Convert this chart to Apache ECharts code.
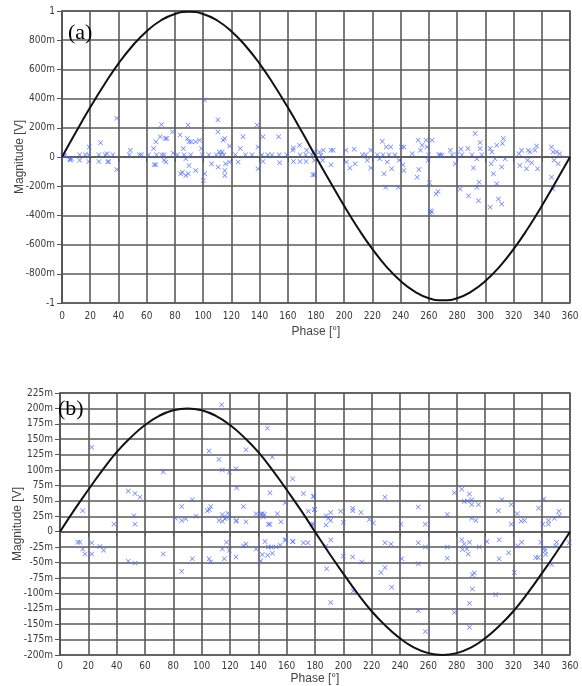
<!DOCTYPE html>
<html>
<head>
<meta charset="utf-8">
<script src="https://cdn.jsdelivr.net/npm/echarts@6/dist/echarts.min.js"></script>
<style>
html,body{margin:0;padding:0;background:#fff;}
#chart{width:582px;height:686px;}
</style>
</head>
<body>
<div id="chart"></div>
<script>
// ---- reference curves (phase in degrees, magnitude in mV) ----
var curvePhase = [0,10,20,30,40,50,60,70,80,90,100,110,120,130,140,150,160,170,180,190,200,210,220,230,240,250,260,270,280,290,300,310,320,330,340,350,360];
var curveA = [0,173,340,497,640,762,862,935,980,995,980,935,862,762,640,497,340,173,0,-170,-336,-491,-631,-752,-850,-922,-967,-982,-967,-922,-850,-752,-631,-491,-336,-170,0];
var curveB = [0,35,68,100,129,153,173,188,197,200,197,188,173,153,129,100,68,35,0,-35,-68,-100,-129,-153,-173,-188,-197,-200,-197,-188,-173,-153,-129,-100,-68,-35,0];

// ---- panel (a) measured points ----
var phaseA = [0.5,1.4,2,5.4,6.6,6,12.5,12.5,16.5,19,19,19.3,26.1,26.1,27.3,30.6,32,32.4,33.1,36,38.8,38.8,48.4,47.7,54.8,56.4,61.3,64.9,65.3,66.5,66.5,67,69.6,70.5,70.7,72.4,72.4,73.1,74.3,73.6,78.3,78.7,81.8,83.7,84.1,85.3,86,86.5,87.7,87.7,88.8,89.3,89.5,90,90,91.2,91.7,94.7,94.7,97.5,98.9,99.4,100.1,101.1,101,104.1,106,109.3,110.5,110.5,110.7,111.6,112.3,113.5,114.2,114.7,115.2,115.4,115.4,115.9,118.7,118.7,122.9,124.8,126.4,128.3,130,134.7,138.2,138.9,138.9,141.7,142.4,142.4,145.9,148.8,153.5,153.9,154.2,159.3,163.6,164,164,168.3,168.7,168.7,172.7,173,173.4,177,177.7,
178.1,178.8,178.8,182.4,183.5,184.7,185.2,190.6,190.6,192.2,201.2,201.6,204,207,207.7,212.9,215.3,216.4,218.8,218.8,223.5,225.1,227,227.5,228.2,229.4,229.8,230.5,231.7,232.9,233.6,235.9,238.3,238.8,240.6,242.3,241.6,242.3,248.2,251.7,252.4,252.9,254,255.2,258,258.7,259.4,259.9,260.4,261.1,262,260.8,262.3,265.1,266.5,267,268.1,269.3,275.2,276.4,278.7,279.9,282.2,282.7,283.4,287.6,288.1,290.5,291.6,292.8,294,294,295.2,295.6,296.3,296.3,297.5,303.4,303.4,304.1,304.6,305.7,306.9,308.1,308.1,309.3,311.6,311.6,312.1,312.8,314,323.8,324.5,325.7,329.2,329.9,330.4,331.6,332.8,335.1,336.3,337,346.9,348,348.7,350.4,351.6,352.7,346.9,348];
var magA = [10,12,5,-16,-12,-20,16,-23,16,16,-30,69,16,-30,97,16,23,-35,-30,16,265,-85,46,16,16,16,16,58,-53,-53,104,16,138,223,16,16,-23,127,127,-35,173,28,16,150,-115,-104,58,16,-12,-127,127,219,-115,104,-58,16,104,-92,104,115,58,16,-161,-115,390,16,-46,16,255,173,-69,35,16,35,115,16,127,-92,-127,-46,-35,76,16,-35,58,138,16,16,219,-81,69,16,138,-30,16,16,138,16,-39,16,46,62,-30,81,16,-30,16,-30,46,16,-122,
35,-23,-122,35,12,-23,46,46,-53,46,46,-35,-76,53,-46,16,16,-23,46,-76,16,-12,108,16,-115,-207,69,-35,16,69,-81,16,-207,-23,69,69,-53,-92,23,-138,115,-85,46,81,115,69,-23,16,-177,-368,-375,-385,115,-253,-237,16,16,12,46,16,-46,16,-219,53,16,58,-265,16,-76,161,-12,-207,-299,-173,99,58,16,58,-345,-46,35,-115,-12,81,-184,-288,-322,-69,92,127,-12,23,-58,46,-81,-23,46,35,-39,46,76,-81,69,35,-23,35,-46,23,-138,-219];

// ---- panel (b) measured points ----
var phaseB = [22.4,16,12.5,14.1,16,17.6,22.4,22.4,28.2,30.8,38.1,48.2,52.9,56.5,52.2,52.9,48.2,52.9,72.9,72.9,81.6,85.9,85.9,85.9,88.7,93.4,93.4,96,104,105.4,106.4,105.2,106.4,105.2,112.2,114.6,119.5,124.2,124.7,112.2,114.6,114.6,116.5,117.6,118.4,114.1,114.6,117.6,119.5,116,124.2,124.7,124.2,129.4,131.3,131.3,129.4,131.3,138.4,138.4,141.9,142.8,143.5,144.2,147.1,148.2,141.7,142.8,144.7,146.6,147.1,149,149.9,152.5,155.5,158.8,164.2,146.4,149.9,148.2,153.4,156,158.8,164.2,171.8,171.8,174.9,175.3,178.8,179.5,177.6,159.5,164.4,
179.3,179.8,178.8,187.8,189.4,191.1,191.1,187.8,198.1,200,206.6,206.6,212.5,218.4,221.2,229.4,240.7,252.9,257.9,273.4,278.4,283.6,289,285.3,287.6,290.7,290.7,295.4,290.5,293.5,311.9,309.5,318.5,322.7,318.5,325.5,327.9,337.8,341.5,340.8,344.8,344.8,349,352.1,352.5,
187.8,191.1,200,206.6,213,188.2,207,191.1,229.4,233.6,229.4,226.6,234.1,241.2,252.9,252.9,252.9,257.9,257.9,273.4,273.4,278.4,283.6,285.3,284.1,287.2,288.2,289,291.1,292.5,291.1,289,289,295.9,301.3,310,310,307.6,316.7,320.7,323.1,325.9,335.8,337.6,339.5,341.9,342.8,342.3,347,349.8,350.5,359.5];
var magB = [137,34,-17,-17,-28,-36,-18,-36,-24,-30,12,66,62,56,26,12,-48,-51,97,-36,22,41,18,-64,21,52,-44,25,34,36,41,-44,-49,131,117,100,97,102,71,18,28,17,21,23,30,206,-28,-17,-30,-44,17,18,-41,41,133,16,-23,-20,29,-28,29,29,24,28,12,12,-47,-37,-16,-38,-25,-25,-35,-25,-22,-13,-16,168,121,63,29,16,47,86,62,-18,-18,33,57,36,12,-13,-16,
58,36,12,26,22,31,18,11,33,15,38,34,31,20,14,56,12,40,12,28,63,69,61,49,50,52,44,44,22,18,52,34,44,29,12,17,18,38,53,12,18,12,22,33,26,
-23,-13,-40,-41,-49,-60,-96,-115,-18,-20,-58,-66,-90,-44,-18,-52,-128,-25,-162,-25,-43,-131,-13,-20,-29,-28,-36,-17,-70,-67,-93,-116,-155,-25,-16,-13,-44,-102,-34,-66,-23,-17,-42,-42,-17,-27,-37,-31,-53,-23,-17,-18];

function zip(xs, ys){ var o=[]; for(var i=0;i<xs.length && i<ys.length;i++){ o.push([xs[i], ys[i]]); } return o; }

var chart = echarts.init(document.getElementById('chart'));
var tickFont = "'Liberation Sans Narrow','DejaVu Sans Condensed',Arial,sans-serif";
var gridColor = '#5a5a5a';
var xSymbol = 'path://M0,1L1,0L5,4L9,0L10,1L6,5L10,9L9,10L5,6L1,10L0,9L4,5Z';

function fmtA(v){ if(v===0) return '0'; if(Math.abs(v)===1000) return String(v/1000); return v+'m'; }
function fmtB(v){ if(v===0) return '0'; return v+'m'; }

function xAx(idx, gap, margin){
  return {
    type:'value', gridIndex: idx, min:0, max:360, interval:20,
    name:'Phase [\u00b0]', nameLocation:'middle', nameGap: gap,
    nameTextStyle:{color:'#444', fontSize:12, fontFamily:"'Liberation Sans',Arial,sans-serif"},
    axisLine:{show:true, lineStyle:{color:'#555', width:1.5}},
    axisTick:{show:true, length:5, lineStyle:{color:'#555'}},
    axisLabel:{color:'#3a3a3a', fontSize:10, fontFamily:tickFont, margin: margin, showMinLabel:true, showMaxLabel:true},
    splitLine:{show:true, lineStyle:{color:gridColor, width:1.6}}
  };
}
function yAx(idx, min, max, interval, fmt){
  return {
    type:'value', gridIndex: idx, min:min, max:max, interval:interval,
    name:'Magnitude [V]', nameLocation:'middle', nameGap: 36, nameRotate: 90, nameMoveOverlap:false,
    nameTextStyle:{color:'#444', fontSize:12, fontFamily:"'Liberation Sans',Arial,sans-serif"},
    axisLine:{show:true, lineStyle:{color:'#555', width:1.5}},
    axisTick:{show:true, length:5, lineStyle:{color:'#555'}},
    axisLabel:{color:'#3a3a3a', fontSize:10, fontFamily:tickFont, margin:7, formatter: fmt, showMinLabel:true, showMaxLabel:true},
    splitLine:{show:true, lineStyle:{color:gridColor, width:1.6}}
  };
}

var option = {
  animation:false,
  backgroundColor:'#ffffff',
  grid:[
    {left:62, right:12, top:11, height:292, show:true, borderColor:'#555', borderWidth:1.5, containLabel:false, outerBoundsMode:'none'},
    {left:60, right:12, top:393, height:262, show:true, borderColor:'#555', borderWidth:1.5, containLabel:false, outerBoundsMode:'none'}
  ],
  xAxis:[ xAx(0, 23, 8), xAx(1, 18, 6) ],
  yAxis:[ yAx(0, -1000, 1000, 200, fmtA), yAx(1, -200, 225, 25, fmtB) ],
  graphic:[
    {type:'text', left:68, top:22, z:100, style:{text:'(a)', font:"22px 'Liberation Serif','Times New Roman',serif", fill:'#000'}},
    {type:'text', left:58, top:398, z:100, style:{text:'(b)', font:"22px 'Liberation Serif','Times New Roman',serif", fill:'#000'}}
  ],
  series:[
    {type:'scatter', xAxisIndex:0, yAxisIndex:0, data: zip(phaseA, magA), symbol:xSymbol, symbolSize:5,
     itemStyle:{color:'#4a68ff', opacity:0.85}, z:3},
    {type:'line', xAxisIndex:0, yAxisIndex:0, data: zip(curvePhase, curveA), smooth:true, showSymbol:false,
     lineStyle:{color:'#111', width:2}, z:4},
    {type:'scatter', xAxisIndex:1, yAxisIndex:1, data: zip(phaseB, magB), symbol:xSymbol, symbolSize:5,
     itemStyle:{color:'#4a68ff', opacity:0.85}, z:3},
    {type:'line', xAxisIndex:1, yAxisIndex:1, data: zip(curvePhase, curveB), smooth:true, showSymbol:false,
     lineStyle:{color:'#111', width:2}, z:4}
  ]
};
chart.setOption(option);
</script>
</body>
</html>
